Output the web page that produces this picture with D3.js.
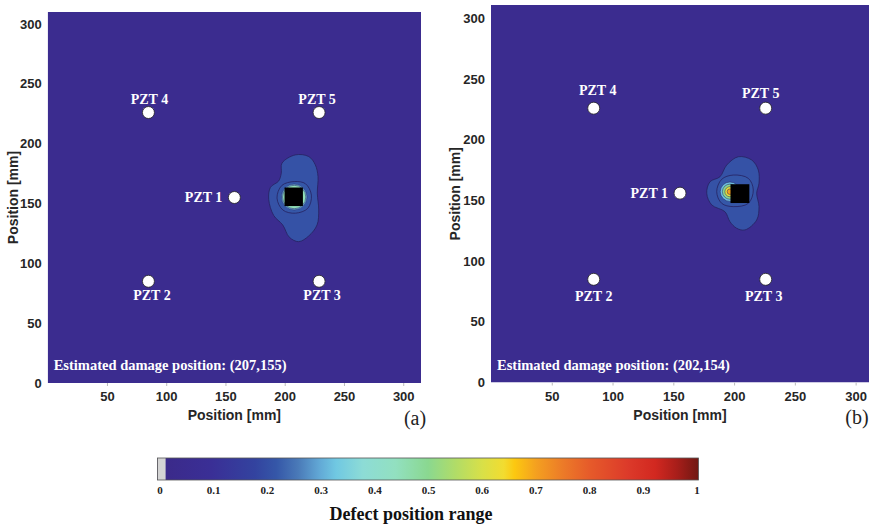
<!DOCTYPE html>
<html>
<head>
<meta charset="utf-8">
<script src="https://cdn.jsdelivr.net/npm/d3@7"></script>
<style>
  body { margin: 0; background: #fff; }
  svg { display: block; }
</style>
</head>
<body>
<svg width="874" height="526"></svg>
<script>
// axis ticks (mm)
const xTicks = [50, 100, 150, 200, 250, 300];
const yTicks = [0, 50, 100, 150, 200, 250, 300];

// PZT sensors
const sensorNames = ["PZT 1", "PZT 2", "PZT 3", "PZT 4", "PZT 5"];
const sensorXA = [157.5, 85, 229, 85, 229];
const sensorYA = [155, 85, 85, 226, 226];
const sensorXB = [155.5, 84.5, 226, 84.5, 226];
const sensorYB = [156, 85, 85, 226, 226];

// estimated damage text
const estimateA = [207, 155];
const estimateB = [202, 154];

// defect (black square) centre, mm
const defectA = [207.6, 155.6];
const defectB = [204.8, 155.6];
const defectSize = 15.5;

// contour outlines, mm
const outerA = [[197.7,183.7],[208.9,190.6],[220.3,189.2],[225.8,182.3],[228.1,172.5],[227.5,158.6],[228.7,144.6],[227.3,132.1],[220.3,122.9],[211.8,118.1],[203.9,121.8],[198.3,132.1],[190.7,140.0],[186.5,153.5],[188.0,163.5],[194.9,168.8],[197.1,175.3]];
const innerA = [[208,168.3],[217.5,166.5],[222.5,157],[219.5,146],[209,141.9],[198.5,144.5],[193.5,154.5],[197.5,165]];
const outerB = [[193.9,179.1],[203.5,186.0],[214.5,183.3],[219.9,175.1],[220.5,164.1],[218.6,155.9],[220.5,144.9],[218.6,133.9],[209.0,125.7],[202.1,127.1],[196.6,132.5],[192.5,140.7],[181.6,146.3],[177.5,155.9],[180.2,165.4],[188.4,169.5]];
const innerB = [[199.3,170.9],[211.7,168.2],[215.8,158.6],[211.7,147.6],[199.3,144.9],[189.8,147.6],[185.7,157.2],[189.8,167.4]];

// contour levels
const bgLevel = 0.05, outerLevel = 0.21, innerLevel = 0.22;
// concentric rings near the peak: [cx, cy, r, level]
const ringsA = [[208, 155.4, 10.8, 0.31], [208, 155.4, 9.8, 0.45]];
const ringsB = [[196.6, 157.2, 8, 0.32], [196.6, 157.2, 6.2, 0.5], [196.6, 157.2, 4.2, 0.62], [196.6, 157.2, 2.3, 0.7]];

// colour bar
const cbTicks = [0, 0.1, 0.2, 0.3, 0.4, 0.5, 0.6, 0.7, 0.8, 0.9, 1];
const cmapStops  = [0.015, 0.1, 0.18, 0.22, 0.26, 0.30, 0.33, 0.38, 0.44, 0.50, 0.55, 0.60, 0.64, 0.66, 0.70, 0.75, 0.80, 0.87, 0.92, 0.96, 1.0];
const cmapColors = ["#3b2a8a","#3a2f96","#33439f","#3557a8","#4a7ab8","#62a9d6","#70c8e2","#8ddcd6","#92e0c0","#8ad890","#b0dc68","#d8e048","#f2dc30","#fcc810","#f4a020","#ec7a28","#e65a2a","#dc3a2a","#d22820","#a81e1a","#701812"];

const cmap = d3.scaleLinear().domain(cmapStops).range(cmapColors).clamp(true);

const svg = d3.select("svg");

function drawPanel(p) {
  const x = d3.scaleLinear().domain(p.xDom).range(p.xRange);
  const y = d3.scaleLinear().domain(p.yDom).range(p.yRange);
  const g = svg.append("g");

  const clipId = "clip" + p.tag;
  g.append("clipPath").attr("id", clipId).append("rect")
    .attr("x", x(p.xDom[0])).attr("y", y(p.yDom[1]))
    .attr("width", x(p.xDom[1]) - x(p.xDom[0]))
    .attr("height", y(p.yDom[0]) - y(p.yDom[1]));

  const plot = g.append("g").attr("clip-path", `url(#${clipId})`);
  plot.append("rect")
    .attr("x", x(p.xDom[0])).attr("y", y(p.yDom[1]))
    .attr("width", x(p.xDom[1]) - x(p.xDom[0]))
    .attr("height", y(p.yDom[0]) - y(p.yDom[1]))
    .attr("fill", cmap(bgLevel));

  const line = d3.line().x(d => x(d[0])).y(d => y(d[1])).curve(d3.curveCatmullRomClosed.alpha(0.5));
  plot.append("path").attr("d", line(p.outer))
    .attr("fill", cmap(outerLevel)).attr("stroke", "#26215f").attr("stroke-width", 0.8);
  plot.append("path").attr("d", line(p.inner))
    .attr("fill", cmap(innerLevel)).attr("stroke", "#26215f").attr("stroke-width", 0.8);

  plot.selectAll(".ring").data(p.rings).enter().append("ellipse")
    .attr("cx", d => x(d[0])).attr("cy", d => y(d[1]))
    .attr("rx", d => x(d[2]) - x(0)).attr("ry", d => y(0) - y(d[2]))
    .attr("fill", d => cmap(d[3])).attr("stroke", "#26215f").attr("stroke-width", 0.5);

  plot.append("rect")
    .attr("x", x(p.defect[0] - defectSize / 2))
    .attr("y", y(p.defect[1] + defectSize / 2))
    .attr("width", x(defectSize) - x(0))
    .attr("height", y(0) - y(defectSize))
    .attr("fill", "#000");

  // sensors
  const sensors = sensorNames.map((n, i) => ({ name: n, x: p.sx[i], y: p.sy[i], i }));
  plot.selectAll(".pzt").data(sensors).enter().append("circle")
    .attr("cx", d => x(d.x)).attr("cy", d => y(d.y)).attr("r", 6)
    .attr("fill", "#fff").attr("stroke", "#222").attr("stroke-width", 0.8);
  g.selectAll(".pztLabel").data(sensors).enter().append("text")
    .attr("x", d => x(d.x) + p.labelOff[d.i][0])
    .attr("y", d => y(d.y) + p.labelOff[d.i][1])
    .attr("text-anchor", d => d.i === 0 ? "end" : "middle")
    .attr("dominant-baseline", "central")
    .attr("font-family", "Liberation Serif, Times New Roman, serif")
    .attr("font-weight", "bold").attr("font-size", 14).attr("fill", "#fff")
    .text(d => d.name);

  g.append("text")
    .attr("x", x(p.xDom[0]) + 6).attr("y", y(p.yDom[0]) - 18)
    .attr("dominant-baseline", "central")
    .attr("font-family", "Liberation Serif, Times New Roman, serif")
    .attr("font-weight", "bold").attr("font-size", 14.5).attr("fill", "#fff")
    .text(`Estimated damage position: (${p.estimate[0]},${p.estimate[1]})`);

  // axes
  const xAxis = g.append("g").attr("transform", `translate(0,${y(p.yDom[0])})`)
    .call(d3.axisBottom(x).tickValues(xTicks).tickSize(3).tickPadding(6));
  const yAxis = g.append("g").attr("transform", `translate(${x(p.xDom[0])},0)`)
    .call(d3.axisLeft(y).tickValues(yTicks).tickSize(0).tickPadding(6));
  [xAxis, yAxis].forEach(a => {
    a.select(".domain").remove();
    a.selectAll("line").attr("stroke", "#bbb");
    a.selectAll("text").attr("font-family", "Liberation Sans, Arial, sans-serif")
      .attr("font-weight", "bold").attr("font-size", 13).attr("fill", "#262626");
  });

  g.append("text")
    .attr("x", (x(p.xDom[0]) + x(p.xDom[1])) / 2).attr("y", y(p.yDom[0]) + 32)
    .attr("text-anchor", "middle").attr("dominant-baseline", "central")
    .attr("font-family", "Liberation Sans, Arial, sans-serif")
    .attr("font-weight", "bold").attr("font-size", 14).attr("fill", "#262626")
    .text("Position [mm]");
  g.append("text")
    .attr("transform", `translate(${p.yLabelX},${(y(p.yDom[0]) + y(p.yDom[1])) / 2}) rotate(-90)`)
    .attr("text-anchor", "middle").attr("dominant-baseline", "central")
    .attr("font-family", "Liberation Sans, Arial, sans-serif")
    .attr("font-weight", "bold").attr("font-size", 14).attr("fill", "#262626")
    .text("Position [mm]");

  g.append("text")
    .attr("x", p.tagPos[0]).attr("y", p.tagPos[1])
    .attr("text-anchor", "middle").attr("dominant-baseline", "central")
    .attr("font-family", "Liberation Serif, Times New Roman, serif")
    .attr("font-size", 20).attr("fill", "#222")
    .text(`(${p.tag})`);
}

drawPanel({
  tag: "a", xDom: [0, 315], yDom: [0, 310], xRange: [47.7, 421], yRange: [383, 12],
  sx: sensorXA, sy: sensorYA,
  outer: outerA, inner: innerA, rings: ringsA, defect: defectA, estimate: estimateA,
  labelOff: [[-12, 0], [3.5, 14], [3, 14], [1, -13], [-2, -13]],
  yLabelX: 13, tagPos: [415, 418]
});
drawPanel({
  tag: "b", xDom: [0, 311], yDom: [0, 311], xRange: [491, 869], yRange: [382.5, 5],
  sx: sensorXB, sy: sensorYB,
  outer: outerB, inner: innerB, rings: ringsB, defect: defectB, estimate: estimateB,
  labelOff: [[-12, 0], [0, 17], [-2, 17], [4, -18], [-5, -15]],
  yLabelX: 455, tagPos: [857, 417]
});

// colour bar
const cbX = d3.scaleLinear().domain([0, 1]).range([160, 697]);
const cbLeft = 157.5, cbRight = 698.5, cbTop = 458, cbBottom = 480;
const defs = svg.append("defs");
const grad = defs.append("linearGradient").attr("id", "cbGrad")
  .attr("gradientUnits", "userSpaceOnUse")
  .attr("x1", cbLeft).attr("x2", cbRight).attr("y1", 0).attr("y2", 0);
const cbPos = d3.scaleLinear().domain([0, 1]).range([cbLeft, cbRight]);
grad.selectAll("stop").data(cmapStops).enter().append("stop")
  .attr("offset", d => (cbPos(d) - cbLeft) / (cbRight - cbLeft))
  .attr("stop-color", (d, i) => cmapColors[i]);

svg.append("rect").attr("x", cbLeft).attr("y", cbTop)
  .attr("width", cbRight - cbLeft).attr("height", cbBottom - cbTop)
  .attr("fill", "url(#cbGrad)");
svg.append("rect").attr("x", cbLeft).attr("y", cbTop)
  .attr("width", cbPos(0.015) - cbLeft).attr("height", cbBottom - cbTop)
  .attr("fill", "#d4d4d4");
svg.append("rect").attr("x", cbLeft).attr("y", cbTop)
  .attr("width", cbRight - cbLeft).attr("height", cbBottom - cbTop)
  .attr("fill", "none").attr("stroke", "#555").attr("stroke-width", 0.8);

svg.selectAll(".cbTick").data(cbTicks).enter().append("text")
  .attr("x", d => cbX(d)).attr("y", 490)
  .attr("text-anchor", "middle").attr("dominant-baseline", "central")
  .attr("font-family", "Liberation Serif, Times New Roman, serif")
  .attr("font-weight", "bold").attr("font-size", 11).attr("fill", "#222")
  .text(d => d);

svg.append("text").attr("x", 411).attr("y", 514)
  .attr("text-anchor", "middle").attr("dominant-baseline", "central")
  .attr("font-family", "Liberation Serif, Times New Roman, serif")
  .attr("font-weight", "bold").attr("font-size", 18).attr("fill", "#111")
  .text("Defect position range");
</script>
</body>
</html>
